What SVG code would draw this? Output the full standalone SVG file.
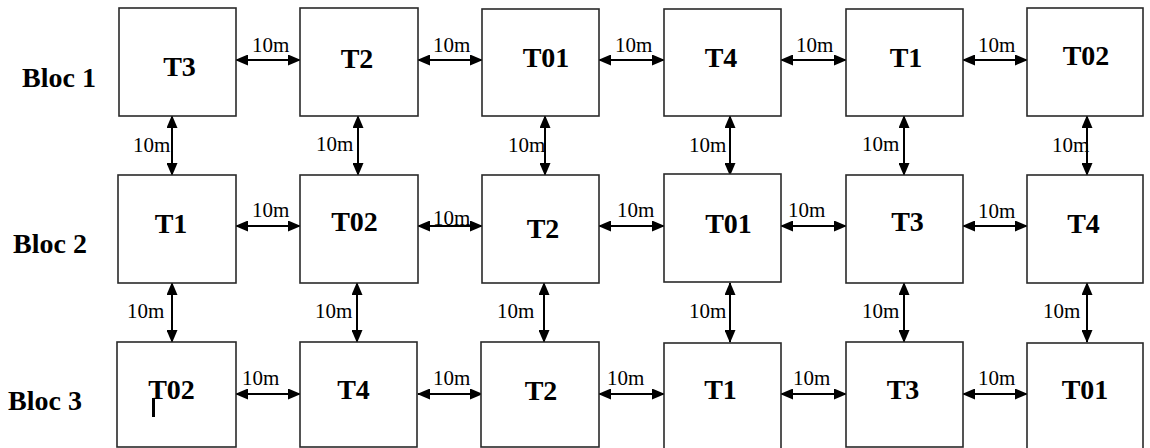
<svg xmlns="http://www.w3.org/2000/svg" width="1150" height="448" viewBox="0 0 1150 448">
<style>
.box{fill:#fff;stroke:#2a2a2a;stroke-width:1.6}
.t{font-family:"Liberation Serif",serif;font-weight:bold;font-size:28px;fill:#000;text-anchor:middle}
.bl{font-family:"Liberation Serif",serif;font-weight:bold;font-size:28px;fill:#000}
.lb{font-family:"Liberation Serif",serif;font-size:21px;fill:#000}
.c{stroke:#000;stroke-width:2;fill:none;marker-start:url(#ah);marker-end:url(#ah)}
</style>
<defs>
<marker id="ah" markerUnits="userSpaceOnUse" markerWidth="13" markerHeight="11" refX="12" refY="5.5" orient="auto-start-reverse">
<path d="M0,0 L13,5.5 L0,11 z" fill="#000"/>
</marker>
</defs>
<rect width="1150" height="448" fill="#fff"/>
<text class="bl" x="22" y="87">Bloc 1</text>
<text class="bl" x="13" y="253">Bloc 2</text>
<text class="bl" x="8" y="410">Bloc 3</text>
<g id="connectors">
<line class="c" x1="236" y1="60" x2="300" y2="60"/>
<line class="c" x1="418" y1="60" x2="482" y2="60"/>
<line class="c" x1="599" y1="60" x2="664" y2="60"/>
<line class="c" x1="781" y1="60" x2="846" y2="60"/>
<line class="c" x1="963" y1="60" x2="1027" y2="60"/>
<line class="c" x1="236" y1="226" x2="300" y2="226"/>
<line class="c" x1="418" y1="226" x2="482" y2="226"/>
<line class="c" x1="599" y1="226" x2="664" y2="226"/>
<line class="c" x1="781" y1="226" x2="846" y2="226"/>
<line class="c" x1="963" y1="226" x2="1027" y2="226"/>
<line class="c" x1="236" y1="394" x2="300" y2="394"/>
<line class="c" x1="418" y1="394" x2="482" y2="394"/>
<line class="c" x1="599" y1="394" x2="664" y2="394"/>
<line class="c" x1="781" y1="394" x2="846" y2="394"/>
<line class="c" x1="963" y1="394" x2="1027" y2="394"/>
<line class="c" x1="172" y1="116" x2="172" y2="175"/>
<line class="c" x1="358" y1="116" x2="358" y2="175"/>
<line class="c" x1="545" y1="116" x2="545" y2="175"/>
<line class="c" x1="730" y1="116" x2="730" y2="175"/>
<line class="c" x1="904" y1="116" x2="904" y2="175"/>
<line class="c" x1="1087" y1="116" x2="1087" y2="175"/>
<line class="c" x1="172" y1="283" x2="172" y2="342"/>
<line class="c" x1="357" y1="283" x2="357" y2="342"/>
<line class="c" x1="544" y1="283" x2="544" y2="342"/>
<line class="c" x1="730" y1="283" x2="730" y2="342"/>
<line class="c" x1="904" y1="283" x2="904" y2="342"/>
<line class="c" x1="1087" y1="283" x2="1087" y2="342"/>
<g id="labels">
<text class="lb" x="252" y="52">10m</text>
<text class="lb" x="433" y="52">10m</text>
<text class="lb" x="615" y="52">10m</text>
<text class="lb" x="796" y="52">10m</text>
<text class="lb" x="978" y="52">10m</text>
<text class="lb" x="252" y="217">10m</text>
<text class="lb" x="433" y="225">10m</text>
<text class="lb" x="617" y="217">10m</text>
<text class="lb" x="788" y="217">10m</text>
<text class="lb" x="978" y="218">10m</text>
<text class="lb" x="242" y="385">10m</text>
<text class="lb" x="433" y="385">10m</text>
<text class="lb" x="607" y="385">10m</text>
<text class="lb" x="793" y="385">10m</text>
<text class="lb" x="978" y="385">10m</text>
<text class="lb" x="133" y="152">10m</text>
<text class="lb" x="316" y="151">10m</text>
<text class="lb" x="508" y="152">10m</text>
<text class="lb" x="689" y="152">10m</text>
<text class="lb" x="862" y="151">10m</text>
<text class="lb" x="1052" y="152">10m</text>
<text class="lb" x="127" y="318">10m</text>
<text class="lb" x="315" y="318">10m</text>
<text class="lb" x="497" y="318">10m</text>
<text class="lb" x="689" y="318">10m</text>
<text class="lb" x="862" y="318">10m</text>
<text class="lb" x="1043" y="318">10m</text>
</g>
</g>
<g id="b1-T3"><rect class="box" x="119" y="8" width="117" height="108"/><text class="t" x="179.5" y="76">T3</text></g>
<g id="b1-T2"><rect class="box" x="300" y="8" width="118" height="108"/><text class="t" x="357" y="68">T2</text></g>
<g id="b1-T01"><rect class="box" x="482" y="9" width="117" height="107"/><text class="t" x="546" y="67">T01</text></g>
<g id="b1-T4"><rect class="box" x="664" y="9" width="117" height="107"/><text class="t" x="721" y="67">T4</text></g>
<g id="b1-T1"><rect class="box" x="846" y="9" width="117" height="107"/><text class="t" x="906" y="67">T1</text></g>
<g id="b1-T02"><rect class="box" x="1027" y="8" width="116" height="108"/><text class="t" x="1086" y="65">T02</text></g>
<g id="b2-T1"><rect class="box" x="118" y="175" width="118" height="108"/><text class="t" x="171" y="233">T1</text></g>
<g id="b2-T02"><rect class="box" x="300" y="175" width="118" height="108"/><text class="t" x="354.5" y="231">T02</text></g>
<g id="b2-T2"><rect class="box" x="482" y="175" width="117" height="108"/><text class="t" x="543" y="238">T2</text></g>
<g id="b2-T01"><rect class="box" x="664" y="174" width="117" height="108"/><text class="t" x="728.5" y="233">T01</text></g>
<g id="b2-T3"><rect class="box" x="846" y="175" width="117" height="108"/><text class="t" x="907.5" y="231">T3</text></g>
<g id="b2-T4"><rect class="box" x="1027" y="175" width="116" height="108"/><text class="t" x="1083.5" y="233">T4</text></g>
<g id="b3-T02"><rect class="box" x="117" y="342" width="119" height="105"/><text class="t" x="171.5" y="399">T02</text><line x1="153.5" y1="398" x2="153.5" y2="417" stroke="#000" stroke-width="3"/></g>
<g id="b3-T4"><rect class="box" x="300" y="342" width="117" height="105"/><text class="t" x="353.5" y="399">T4</text></g>
<g id="b3-T2"><rect class="box" x="481" y="342" width="118" height="105"/><text class="t" x="541" y="400">T2</text></g>
<g id="b3-T1"><rect class="box" x="664" y="343" width="117" height="110"/><text class="t" x="720.5" y="399">T1</text></g>
<g id="b3-T3"><rect class="box" x="846" y="342" width="117" height="105"/><text class="t" x="903" y="399">T3</text></g>
<g id="b3-T01"><rect class="box" x="1027" y="343" width="116" height="110"/><text class="t" x="1085" y="399">T01</text></g>
</svg>
